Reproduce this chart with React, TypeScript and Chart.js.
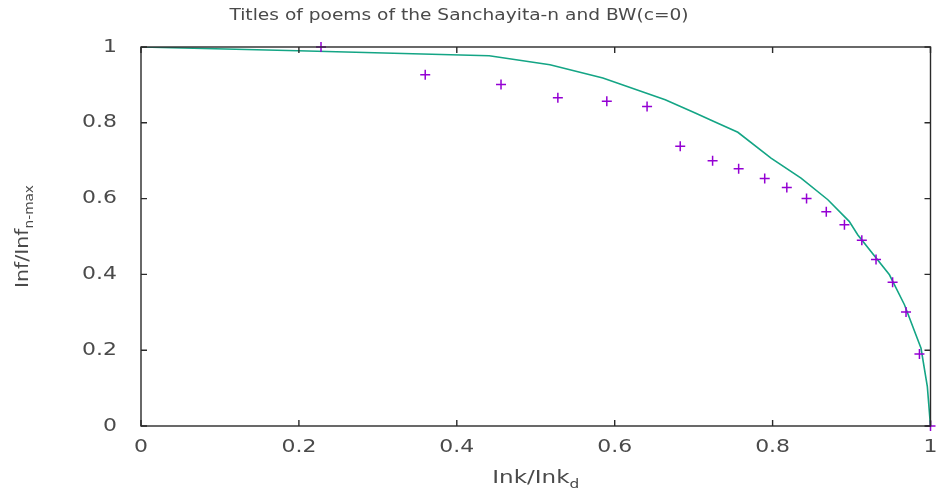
import React, { useEffect, useRef } from "react";
import { Chart, registerables } from "chart.js";

Chart.register(...registerables);

// Observed data (Sanchayita-n titles)
const POINTS_X = [0.228, 0.360, 0.456, 0.528, 0.590, 0.641, 0.683, 0.724, 0.757, 0.790, 0.818, 0.843, 0.868, 0.891, 0.913, 0.931, 0.952, 0.969, 0.986, 1.0];
const POINTS_Y = [1.0, 0.927, 0.901, 0.866, 0.857, 0.843, 0.738, 0.700, 0.679, 0.653, 0.629, 0.600, 0.565, 0.531, 0.490, 0.439, 0.379, 0.301, 0.190, 0.0];

// BW(c=0) model curve
const LINE_X = [0, 0.199, 0.441, 0.518, 0.585, 0.664, 0.702, 0.725, 0.756, 0.798, 0.836, 0.870, 0.897, 0.908, 0.948, 0.967, 0.988, 0.996, 1.0];
const LINE_Y = [1.0, 0.990, 0.977, 0.953, 0.918, 0.861, 0.826, 0.804, 0.775, 0.707, 0.654, 0.597, 0.540, 0.504, 0.399, 0.320, 0.205, 0.104, 0.0];

const X_TICKS = [0, 0.2, 0.4, 0.6, 0.8, 1];
const X_TICK_LABELS = ["0", "0.2", "0.4", "0.6", "0.8", "1"];
const Y_TICKS = [0, 0.2, 0.4, 0.6, 0.8, 1];
const Y_TICK_LABELS = ["0", "0.2", "0.4", "0.6", "0.8", "1"];

const TITLE = "Titles of poems of the Sanchayita-n and BW(c=0)";
const X_LABEL = "Ink/Ink";
const X_LABEL_SUB = "d";
const Y_LABEL = "Inf/Inf";
const Y_LABEL_SUB = "n-max";

const FONT = '"DejaVu Sans", sans-serif';
const TEXT_COLOR = "#4a4a4a";

type Part = { text: string; size: number; dy: number };

function drawParts(ctx: CanvasRenderingContext2D, parts: Part[], stretch: number, align: "left" | "center" | "right") {
  const widths = parts.map((p) => {
    ctx.font = `${p.size}px ${FONT}`;
    return ctx.measureText(p.text).width * stretch;
  });
  const total = widths.reduce((a, b) => a + b, 0);
  let x = align === "center" ? -total / 2 : align === "right" ? -total : 0;
  parts.forEach((p, i) => {
    ctx.save();
    ctx.font = `${p.size}px ${FONT}`;
    ctx.textAlign = "left";
    ctx.translate(x, p.dy);
    ctx.scale(stretch, 1);
    ctx.fillText(p.text, 0, 0);
    ctx.restore();
    x += widths[i];
  });
}

const gnuplotPlugin = {
  id: "gnuplotDecor",
  beforeDraw(chart: any) {
    const ctx = chart.ctx as CanvasRenderingContext2D;
    ctx.save();
    ctx.fillStyle = "#ffffff";
    ctx.fillRect(0, 0, chart.width, chart.height);
    ctx.restore();
  },
  afterDatasetsDraw(chart: any) {
    const ctx = chart.ctx as CanvasRenderingContext2D;
    const { left, right, top, bottom } = chart.chartArea;
    const xs = chart.scales.x;
    const ys = chart.scales.y;
    const tickLen = 6;
    ctx.save();
    // frame
    ctx.strokeStyle = "#2a2a2a";
    ctx.lineWidth = 1.4;
    ctx.strokeRect(left, top, right - left, bottom - top);
    // ticks (inward, mirrored)
    ctx.beginPath();
    X_TICKS.forEach((v) => {
      const px = xs.getPixelForValue(v);
      ctx.moveTo(px, bottom);
      ctx.lineTo(px, bottom - tickLen);
      ctx.moveTo(px, top);
      ctx.lineTo(px, top + tickLen);
    });
    Y_TICKS.forEach((v) => {
      const py = ys.getPixelForValue(v);
      ctx.moveTo(left, py);
      ctx.lineTo(left + tickLen, py);
      ctx.moveTo(right, py);
      ctx.lineTo(right - tickLen, py);
    });
    ctx.stroke();

    ctx.fillStyle = TEXT_COLOR;
    ctx.textBaseline = "middle";
    const tickStretch = 1.22;
    X_TICKS.forEach((v, i) => {
      const px = xs.getPixelForValue(v);
      ctx.save();
      ctx.translate(px, bottom + 21);
      drawParts(ctx, [{ text: X_TICK_LABELS[i], size: 18, dy: 0 }], tickStretch, "center");
      ctx.restore();
    });
    Y_TICKS.forEach((v, i) => {
      const py = ys.getPixelForValue(v);
      ctx.save();
      ctx.translate(left - 24, py);
      drawParts(ctx, [{ text: Y_TICK_LABELS[i], size: 18, dy: 0 }], tickStretch, "right");
      ctx.restore();
    });

    ctx.textBaseline = "alphabetic";
    // title
    ctx.save();
    ctx.translate(459, 19.5);
    drawParts(ctx, [{ text: TITLE, size: 15.5, dy: 0 }], 1.2, "center");
    ctx.restore();
    // x label
    ctx.save();
    ctx.translate((left + right) / 2, 483);
    drawParts(ctx, [
      { text: X_LABEL, size: 18, dy: 0 },
      { text: X_LABEL_SUB, size: 12, dy: 5 },
    ], 1.28, "center");
    ctx.restore();
    // y label
    ctx.save();
    ctx.translate(28, (top + bottom) / 2);
    ctx.rotate(-Math.PI / 2);
    drawParts(ctx, [
      { text: Y_LABEL, size: 18, dy: 0 },
      { text: Y_LABEL_SUB, size: 12, dy: 5 },
    ], 1.14, "center");
    ctx.restore();
    ctx.restore();
  },
};

export default function App() {
  const ref = useRef<HTMLCanvasElement | null>(null);
  useEffect(() => {
    if (!ref.current) return;
    const chart = new Chart(ref.current, {
      type: "scatter",
      data: {
        datasets: [
          {
            label: "BW(c=0)",
            data: LINE_X.map((x, i) => ({ x, y: LINE_Y[i] })),
            showLine: true,
            borderColor: "#14a585",
            backgroundColor: "#14a585",
            borderWidth: 1.6,
            pointRadius: 0,
            tension: 0,
            fill: false,
            order: 2,
          },
          {
            label: "Sanchayita-n",
            data: POINTS_X.map((x, i) => ({ x, y: POINTS_Y[i] })),
            showLine: false,
            pointStyle: "cross",
            pointRadius: 5,
            pointBorderWidth: 1.5,
            borderColor: "#9400d3",
            backgroundColor: "#9400d3",
            clip: false as any,
            order: 1,
          },
        ],
      },
      options: {
        responsive: false,
        animation: false,
        layout: { padding: { left: 141, right: 4, top: 47, bottom: 67 } },
        plugins: { legend: { display: false }, title: { display: false }, tooltip: { enabled: false } },
        scales: {
          x: { type: "linear", min: 0, max: 1, display: false },
          y: { type: "linear", min: 0, max: 1, display: false },
        },
      },
      plugins: [gnuplotPlugin],
    });
    return () => chart.destroy();
  }, []);
  return (
    <div style={{ position: "absolute", left: 0, top: 0, width: 937, height: 493 }}>
      <canvas ref={ref} width={937} height={493} style={{ width: 937, height: 493, display: "block" }} />
    </div>
  );
}
